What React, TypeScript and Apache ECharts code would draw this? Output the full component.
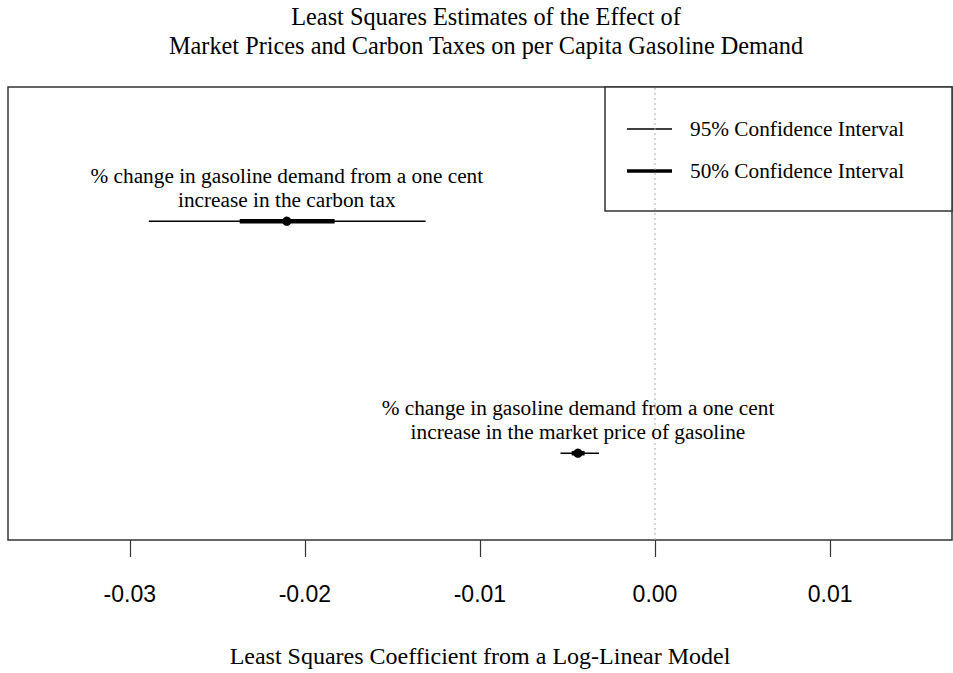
import React, { useEffect, useRef } from "react";
import * as echarts from "echarts";

// ---- data ----
const CATEGORIES = ["carbon tax", "market price"];
const LABELS = [
  "% change in gasoline demand from a one cent\nincrease in the carbon tax",
  "% change in gasoline demand from a one cent\nincrease in the market price of gasoline",
];
const Y_POS = [2, 1];
const ESTIMATE = [-0.02103, -0.0044];
const LO95 = [-0.02891, -0.0054];
const HI95 = [-0.0131, -0.0032];
const LO50 = [-0.02372, -0.00476];
const HI50 = [-0.0183, -0.00402];
const X_TICKS = [-0.03, -0.02, -0.01, 0, 0.01];
const REF_X = 0;
const LEGEND_ITEMS = ["95% Confidence Interval", "50% Confidence Interval"];

const SERIF = "'Liberation Serif', 'Times New Roman', serif";
const SANS = "'Liberation Sans', Arial, sans-serif";

const X_MIN = -0.036955;
const X_MAX = 0.016964;
const Y_MIN = 0.6258;
const Y_MAX = 2.5785;

export default function App() {
  const ref = useRef<HTMLDivElement>(null);

  useEffect(() => {
    if (!ref.current) return;
    const chart = echarts.init(ref.current, null, { renderer: "svg" });

    const data = CATEGORIES.map((_, i) => [
      Y_POS[i],
      LO95[i],
      HI95[i],
      LO50[i],
      HI50[i],
      ESTIMATE[i],
    ]);

    const option: any = {
      animation: false,
      backgroundColor: "#fff",
      title: {
        text:
          "Least Squares Estimates of the Effect of\nMarket Prices and Carbon Taxes on per Capita Gasoline Demand",
        left: 481,
        top: -3,
        textAlign: "center",
        textStyle: {
          fontFamily: SERIF,
          fontSize: 24.3,
          fontWeight: "normal",
          color: "#000",
          lineHeight: 29,
        },
      },
      grid: {
        left: 8,
        right: 1,
        top: 87,
        bottom: 132,
        show: true,
        borderColor: "#333",
        borderWidth: 1.5,
        backgroundColor: "transparent",
      },
      xAxis: {
        type: "value",
        min: X_MIN,
        max: X_MAX,
        name: "Least Squares Coefficient from a Log-Linear Model",
        nameLocation: "middle",
        nameGap: 104,
        nameTextStyle: {
          fontFamily: SERIF,
          fontSize: 24,
          color: "#000",
        },
        axisLine: { show: false },
        splitLine: { show: false },
        axisTick: {
          show: true,
          length: 17,
          lineStyle: { color: "#333", width: 1.2 },
          customValues: X_TICKS,
        },
        axisLabel: {
          customValues: X_TICKS,
          margin: 42,
          fontFamily: SANS,
          fontSize: 23,
          color: "#000",
          formatter: (v: number) => v.toFixed(2),
        },
      },
      yAxis: {
        type: "value",
        min: Y_MIN,
        max: Y_MAX,
        show: false,
        splitLine: { show: false },
      },
      series: [
        {
          type: "line",
          name: "zero",
          data: [
            [REF_X, Y_MIN],
            [REF_X, Y_MAX],
          ],
          symbol: "none",
          z: 1,
          lineStyle: { color: "#aaa", width: 1, type: [2, 3] },
          silent: true,
        },
        {
          type: "custom",
          name: "estimates",
          data,
          z: 3,
          renderItem: (params: any, api: any) => {
            const y = api.value(0);
            const a95 = api.coord([api.value(1), y]);
            const b95 = api.coord([api.value(2), y]);
            const a50 = api.coord([api.value(3), y]);
            const b50 = api.coord([api.value(4), y]);
            const pt = api.coord([api.value(5), y]);
            return {
              type: "group",
              children: [
                {
                  type: "line",
                  shape: { x1: a95[0], y1: a95[1], x2: b95[0], y2: b95[1] },
                  style: { stroke: "#000", lineWidth: 1.5 },
                },
                {
                  type: "line",
                  shape: { x1: a50[0], y1: a50[1], x2: b50[0], y2: b50[1] },
                  style: { stroke: "#000", lineWidth: 4.5 },
                },
                {
                  type: "circle",
                  shape: { cx: pt[0], cy: pt[1], r: 4.6 },
                  style: { fill: "#000" },
                },
                {
                  type: "text",
                  x: pt[0],
                  y: pt[1] - 9,
                  style: {
                    text: LABELS[params.dataIndex],
                    fontFamily: SERIF,
                    fontSize: 21.3,
                    lineHeight: 24,
                    fill: "#000",
                    align: "center",
                    verticalAlign: "bottom",
                  },
                },
              ],
            };
          },
        },
      ],
      graphic: [
        {
          type: "group",
          z: 100,
          children: [
            {
              type: "rect",
              shape: { x: 605, y: 87, width: 347, height: 124 },
              style: { fill: "#fff", stroke: "#333", lineWidth: 1.5 },
            },
            {
              type: "line",
              shape: { x1: 627, y1: 129, x2: 672, y2: 129 },
              style: { stroke: "#000", lineWidth: 1.3 },
            },
            {
              type: "line",
              shape: { x1: 627, y1: 171, x2: 672, y2: 171 },
              style: { stroke: "#000", lineWidth: 3.5 },
            },
            {
              type: "text",
              x: 690,
              y: 129,
              style: {
                text: LEGEND_ITEMS[0],
                fontFamily: SERIF,
                fontSize: 21.3,
                fill: "#000",
                verticalAlign: "middle",
              },
            },
            {
              type: "text",
              x: 690,
              y: 171,
              style: {
                text: LEGEND_ITEMS[1],
                fontFamily: SERIF,
                fontSize: 21.3,
                fill: "#000",
                verticalAlign: "middle",
              },
            },
          ],
        },
      ],
    };

    chart.setOption(option);
    return () => chart.dispose();
  }, []);

  return (
    <div
      ref={ref}
      style={{
        position: "fixed",
        left: 0,
        top: 0,
        width: 953,
        height: 673,
        background: "#fff",
      }}
    />
  );
}
